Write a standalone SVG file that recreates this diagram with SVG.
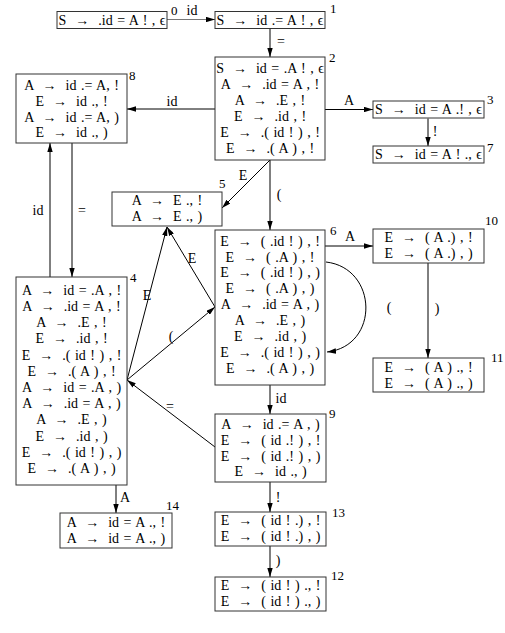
<svg xmlns="http://www.w3.org/2000/svg" width="505" height="633" viewBox="0 0 505 633">
<defs>
<marker id="ah" viewBox="0 0 10 6" refX="10" refY="3" markerWidth="9" markerHeight="5.4" markerUnits="userSpaceOnUse" orient="auto">
<path d="M0,0 L10,3 L0,6 z" fill="#000"/>
</marker>
<style>
text{font-family:"Liberation Serif","DejaVu Serif",serif;font-size:13px;fill:#000;white-space:pre}
.n text{text-anchor:middle;font-size:14px;word-spacing:1px}
.n rect{fill:#fff;stroke:#333;stroke-width:1}
.n text.num{text-anchor:start;font-size:13px;word-spacing:0}
.e path{fill:none;stroke:#000;stroke-width:1;marker-end:url(#ah)}
.e text{text-anchor:middle;font-size:14px}
</style>
</defs>
<rect width="505" height="633" fill="#fff"/>
<g class="e" id="edges">
<path d="M167,19.5 L215,19.5" style="stroke:#777"/>
<text x="192" y="15">id</text>
<path d="M270,28.5 L270,57"/>
<text x="281" y="46">=</text>
<path d="M325,109.5 L373,109.5"/>
<text x="349" y="105">A</text>
<path d="M428,118.5 L428,146"/>
<text x="435" y="136">!</text>
<path d="M215,109 L127,109"/>
<text x="172" y="106">id</text>
<path d="M270,160 L222,208"/>
<text x="243" y="180">E</text>
<path d="M270,160 L270,230"/>
<text x="279" y="199">(</text>
<path d="M72,143 L72,277"/>
<text x="82" y="215">=</text>
<path d="M50,277 L50,143"/>
<text x="38" y="215">id</text>
<path d="M127,380 L167,227"/>
<text x="147" y="300">E</text>
<path d="M215,307 L167,227"/>
<text x="192" y="263">E</text>
<path d="M127,380 L215,307"/>
<text x="171" y="341">(</text>
<path d="M215,447 L127,380"/>
<text x="170" y="411">=</text>
<path d="M325,246 L373,246"/>
<text x="350" y="241">A</text>
<path d="M326,262 C378,268 380,346 327,352"/>
<text x="389" y="312">(</text>
<path d="M428,263 L428,358"/>
<text x="437" y="313">)</text>
<path d="M270,385 L270,414"/>
<text x="281" y="403">id</text>
<path d="M270,482 L270,512"/>
<text x="278" y="502">!</text>
<path d="M270,546 L270,577"/>
<text x="278" y="565">)</text>
<path d="M116,485 L116,513"/>
<text x="125" y="502">A</text>
</g>
<g class="n" id="n0">
<rect x="57" y="11.5" width="110" height="17"/>
<text x="112" y="24.5">S  →  .id = A ! , ϵ</text>
<text class="num" x="171" y="15">0</text>
</g>
<g class="n" id="n1">
<rect x="215" y="11.5" width="110" height="17"/>
<text x="270" y="24.5">S  →  id .= A ! , ϵ</text>
<text class="num" x="330" y="13">1</text>
</g>
<g class="n" id="n2">
<rect x="215" y="57" width="110" height="103"/>
<text x="270" y="73">S  →  id = .A ! , ϵ</text>
<text x="270" y="89">A  →  .id = A , !</text>
<text x="270" y="105">A  →  .E , !</text>
<text x="270" y="121">E  →  .id , !</text>
<text x="270" y="137">E  →  .( id ! ) , !</text>
<text x="270" y="153">E  →  .( A ) , !</text>
<text class="num" x="329" y="62">2</text>
</g>
<g class="n" id="n3">
<rect x="373" y="101" width="111" height="17"/>
<text x="428.5" y="114">S  →  id = A .! , ϵ</text>
<text class="num" x="487" y="104">3</text>
</g>
<g class="n" id="n7">
<rect x="373" y="146" width="111" height="17"/>
<text x="428.5" y="159">S  →  id = A ! ., ϵ</text>
<text class="num" x="487" y="152">7</text>
</g>
<g class="n" id="n8">
<rect x="16" y="74" width="111" height="69"/>
<text x="71.5" y="90">A  →  id .= A, !</text>
<text x="71.5" y="106">E  →  id ., !</text>
<text x="71.5" y="122">A  →  id .= A, )</text>
<text x="71.5" y="137">E  →  id ., )</text>
<text class="num" x="129" y="80">8</text>
</g>
<g class="n" id="n5">
<rect x="112" y="192" width="110" height="34"/>
<text x="167" y="205">A  →  E ., !</text>
<text x="167" y="221">A  →  E ., )</text>
<text class="num" x="219" y="188">5</text>
</g>
<g class="n" id="n6">
<rect x="215" y="230" width="110" height="155"/>
<text x="270" y="246">E  →  ( .id ! ) , !</text>
<text x="270" y="262">E  →  ( .A ) , !</text>
<text x="270" y="277">E  →  ( .id ! ) , )</text>
<text x="270" y="293">E  →  ( .A ) , )</text>
<text x="270" y="309">A  →  .id = A , )</text>
<text x="270" y="325">A  →  .E , )</text>
<text x="270" y="341">E  →  .id , )</text>
<text x="270" y="357">E  →  .( id ! ) , )</text>
<text x="270" y="373">E  →  .( A ) , )</text>
<text class="num" x="330" y="235">6</text>
</g>
<g class="n" id="n10">
<rect x="373" y="229" width="111" height="34"/>
<text x="428.5" y="242">E  →  ( A .) , !</text>
<text x="428.5" y="258">E  →  ( A .) , )</text>
<text class="num" x="485" y="225">10</text>
</g>
<g class="n" id="n11">
<rect x="373" y="358" width="111" height="34"/>
<text x="428.5" y="372">E  →  ( A ) ., !</text>
<text x="428.5" y="388">E  →  ( A ) ., )</text>
<text class="num" x="491" y="362">11</text>
</g>
<g class="n" id="n4">
<rect x="16" y="277" width="111" height="208"/>
<text x="71.5" y="295">A  →  id = .A , !</text>
<text x="71.5" y="311">A  →  .id = A , !</text>
<text x="71.5" y="327">A  →  .E , !</text>
<text x="71.5" y="343">E  →  .id , !</text>
<text x="71.5" y="360">E  →  .( id ! ) , !</text>
<text x="71.5" y="376">E  →  .( A ) , !</text>
<text x="71.5" y="392">A  →  id = .A , )</text>
<text x="71.5" y="408">A  →  .id = A , )</text>
<text x="71.5" y="424">A  →  .E , )</text>
<text x="71.5" y="441">E  →  .id , )</text>
<text x="71.5" y="457">E  →  .( id ! ) , )</text>
<text x="71.5" y="473">E  →  .( A ) , )</text>
<text class="num" x="130" y="282">4</text>
</g>
<g class="n" id="n9">
<rect x="215" y="414" width="111" height="68"/>
<text x="270.5" y="429">A  →  id .= A , )</text>
<text x="270.5" y="445">E  →  ( id .! ) , !</text>
<text x="270.5" y="461">E  →  ( id .! ) , )</text>
<text x="270.5" y="476">E  →  id ., )</text>
<text class="num" x="329" y="418">9</text>
</g>
<g class="n" id="n13">
<rect x="215" y="512" width="111" height="34"/>
<text x="270.5" y="525">E  →  ( id ! .) , !</text>
<text x="270.5" y="541">E  →  ( id ! .) , )</text>
<text class="num" x="332" y="517">13</text>
</g>
<g class="n" id="n12">
<rect x="215" y="577" width="111" height="34"/>
<text x="270.5" y="590">E  →  ( id ! ) ., !</text>
<text x="270.5" y="606">E  →  ( id ! ) ., )</text>
<text class="num" x="331" y="580">12</text>
</g>
<g class="n" id="n14">
<rect x="60" y="513" width="112" height="35"/>
<text x="116" y="527">A  →  id = A ., !</text>
<text x="116" y="543">A  →  id = A ., )</text>
<text class="num" x="166" y="510">14</text>
</g>
</svg>
